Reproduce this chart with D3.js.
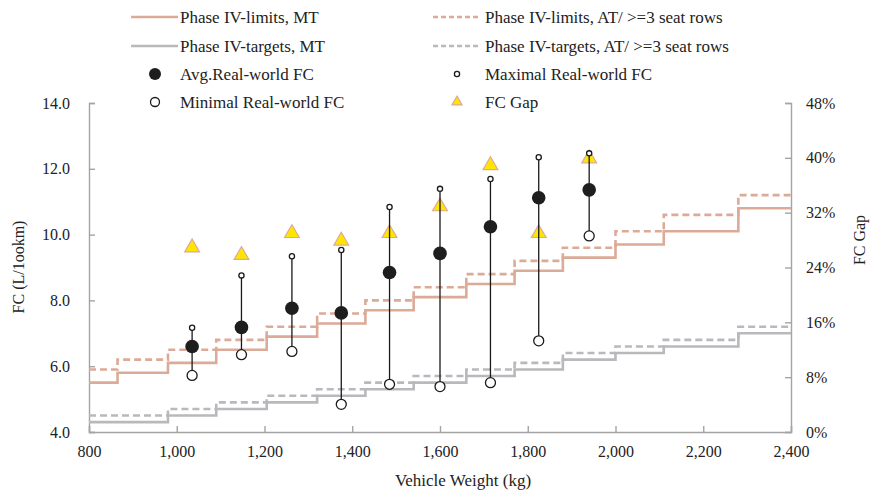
<!DOCTYPE html>
<html>
<head>
<meta charset="utf-8">
<title>FC vs weight</title>
<script src="https://d3js.org/d3.v7.min.js"></script>
<style>
body { margin: 0; background: #fff; }
svg text { font-family: "Liberation Serif", "Times New Roman", serif; fill: #222; }
</style>
</head>
<body>
<svg id="chart" width="870" height="494"></svg>
<script>
// step limits/targets per weight bin (bins clipped to the 800-2400 axis)
var binEdges = [800, 865, 980, 1090, 1205, 1320, 1430, 1540, 1660, 1770, 1880, 2000, 2110, 2280, 2400];
var limitMT  = [5.5, 5.8, 6.1, 6.5, 6.9, 7.3, 7.7, 8.1, 8.5, 8.9, 9.3, 9.7, 10.1, 10.8];
var limitAT  = [5.9, 6.2, 6.5, 6.8, 7.2, 7.6, 8.0, 8.4, 8.8, 9.2, 9.6, 10.1, 10.6, 11.2];
var targetMT = [4.3, 4.3, 4.5, 4.7, 4.9, 5.1, 5.3, 5.5, 5.7, 5.9, 6.2, 6.4, 6.6, 7.0];
var targetAT = [4.5, 4.5, 4.7, 4.9, 5.1, 5.3, 5.5, 5.7, 5.9, 6.1, 6.4, 6.6, 6.8, 7.2];

// real-world FC, one point per bin midpoint
var weights = [1035, 1147.5, 1262.5, 1375, 1485, 1600, 1715, 1825, 1940];
var avgFC   = [6.60, 7.18, 7.76, 7.62, 8.85, 9.43, 10.24, 11.12, 11.36];
var maxFC   = [7.17, 8.76, 9.34, 9.53, 10.84, 11.39, 11.69, 12.35, 12.47];
var minFC   = [5.72, 6.35, 6.45, 4.84, 5.45, 5.38, 5.50, 6.77, 9.96];
var fcGap   = [0.269, 0.258, 0.290, 0.279, 0.290, 0.329, 0.389, 0.290, 0.399];

var xTicks = [800, 1000, 1200, 1400, 1600, 1800, 2000, 2200, 2400];
var yTicks = [4, 6, 8, 10, 12, 14];
var gapTicks = [0, 0.08, 0.16, 0.24, 0.32, 0.40, 0.48];

var limitColor = "#dcab98";
var targetColor = "#b9b9bd";
var axisColor = "#a4a4a4";

var svg = d3.select("#chart");
var plotLeft = 89, plotRight = 791, plotTop = 103, plotBottom = 432;

var x = d3.scaleLinear().domain([800, 2400]).range([plotLeft, plotRight]);
var y = d3.scaleLinear().domain([4, 14]).range([plotBottom, plotTop]);
var y2 = d3.scaleLinear().domain([0, 0.48]).range([plotBottom, plotTop]);

// axes, ticks pointing inward
var xAxis = svg.append("g").attr("transform", "translate(0," + plotBottom + ")")
  .call(d3.axisTop(x).tickValues(xTicks).tickSize(6).tickFormat(d3.format(",")));
xAxis.selectAll("text").attr("y", 25).attr("dy", 0).style("font-size", "16px");

var yAxis = svg.append("g").attr("transform", "translate(" + plotLeft + ",0)")
  .call(d3.axisRight(y).tickValues(yTicks).tickSize(6).tickFormat(d3.format(".1f")));
yAxis.selectAll("text").attr("x", -19).attr("text-anchor", "end").style("font-size", "16px");

var y2Axis = svg.append("g").attr("transform", "translate(" + plotRight + ",0)")
  .call(d3.axisLeft(y2).tickValues(gapTicks).tickSize(6).tickFormat(d3.format(".0%")));
y2Axis.selectAll("text").attr("x", 15).attr("text-anchor", "start").style("font-size", "16px");

svg.selectAll(".domain, .tick line").attr("stroke", axisColor).attr("stroke-width", 1.4);
svg.selectAll(".tick text").attr("fill", "#222").attr("font-family", "Liberation Serif");

// axis titles
svg.append("text").attr("x", 463).attr("y", 486).attr("text-anchor", "middle")
  .style("font-size", "17px").text("Vehicle  Weight (kg)");
svg.append("text").attr("transform", "translate(24,267) rotate(-90)").attr("text-anchor", "middle")
  .style("font-size", "16px").text("FC (L/1ookm)");
svg.append("text").attr("transform", "translate(865,240) rotate(-90)").attr("text-anchor", "middle")
  .style("font-size", "16px").text("FC Gap");

// step lines
function stepData(vals) {
  var pts = vals.map(function(v, i) { return [binEdges[i], v]; });
  pts.push([binEdges[binEdges.length - 1], vals[vals.length - 1]]);
  return pts;
}
var step = d3.line().x(function(d) { return x(d[0]); }).y(function(d) { return y(d[1]); }).curve(d3.curveStepAfter);

var series = [
  {vals: limitMT, color: limitColor, dash: null},
  {vals: limitAT, color: limitColor, dash: "7,4"},
  {vals: targetMT, color: targetColor, dash: null},
  {vals: targetAT, color: targetColor, dash: "7,4"}
];
series.forEach(function(s) {
  svg.append("path").datum(stepData(s.vals)).attr("d", step)
    .attr("fill", "none").attr("stroke", s.color).attr("stroke-width", 2.6)
    .attr("stroke-dasharray", s.dash);
});

var pts = weights.map(function(w, i) {
  return {w: w, avg: avgFC[i], max: maxFC[i], min: minFC[i], gap: fcGap[i]};
});

var tri = d3.symbol().type(d3.symbolTriangle).size(95);
svg.selectAll(".gap").data(pts).enter().append("path")
  .attr("transform", function(d) { return "translate(" + x(d.w) + "," + y2(d.gap) + ")"; })
  .attr("d", tri).attr("fill", "#ffe500").attr("stroke", limitColor).attr("stroke-width", 1.2);

svg.selectAll(".bar").data(pts).enter().append("line")
  .attr("x1", function(d) { return x(d.w); }).attr("x2", function(d) { return x(d.w); })
  .attr("y1", function(d) { return y(d.min); }).attr("y2", function(d) { return y(d.max); })
  .attr("stroke", "#1a1a1a").attr("stroke-width", 1.3);

svg.selectAll(".mx").data(pts).enter().append("circle")
  .attr("cx", function(d) { return x(d.w); }).attr("cy", function(d) { return y(d.max); })
  .attr("r", 2.6).attr("fill", "#fff").attr("stroke", "#1a1a1a").attr("stroke-width", 1.3);

svg.selectAll(".mn").data(pts).enter().append("circle")
  .attr("cx", function(d) { return x(d.w); }).attr("cy", function(d) { return y(d.min); })
  .attr("r", 5).attr("fill", "#fff").attr("stroke", "#1a1a1a").attr("stroke-width", 1.3);

svg.selectAll(".av").data(pts).enter().append("circle")
  .attr("cx", function(d) { return x(d.w); }).attr("cy", function(d) { return y(d.avg); })
  .attr("r", 6.8).attr("fill", "#1e1e1e");

// legend
var lg = svg.append("g");
var rows = [17, 46, 74, 102];
function legendText(xp, yp, label) {
  lg.append("text").attr("x", xp).attr("y", yp).attr("dy", "0.35em").style("font-size", "17px").text(label);
}
function legendLine(x0, yp, color, dash) {
  lg.append("line").attr("x1", x0).attr("x2", x0 + 47).attr("y1", yp).attr("y2", yp)
    .attr("stroke", color).attr("stroke-width", 2.6).attr("stroke-dasharray", dash);
}
legendLine(131, rows[0], limitColor, null);
legendText(180, rows[0], "Phase IV-limits, MT");
legendLine(131, rows[1], targetColor, null);
legendText(180, rows[1], "Phase IV-targets, MT");
legendLine(433, rows[0], limitColor, "5,3");
legendText(485, rows[0], "Phase IV-limits, AT/ >=3 seat rows");
legendLine(433, rows[1], targetColor, "5,3");
legendText(485, rows[1], "Phase IV-targets, AT/ >=3 seat rows");

lg.append("circle").attr("cx", 155).attr("cy", rows[2]).attr("r", 6).attr("fill", "#1e1e1e");
legendText(180, rows[2], "Avg.Real-world FC");
lg.append("circle").attr("cx", 155).attr("cy", rows[3]).attr("r", 4.5)
  .attr("fill", "#fff").attr("stroke", "#1a1a1a").attr("stroke-width", 1.3);
legendText(180, rows[3], "Minimal Real-world FC");
lg.append("circle").attr("cx", 457).attr("cy", rows[2]).attr("r", 2.6)
  .attr("fill", "#fff").attr("stroke", "#1a1a1a").attr("stroke-width", 1.3);
legendText(485, rows[2], "Maximal Real-world FC");
lg.append("path").attr("transform", "translate(457," + rows[3] + ")")
  .attr("d", d3.symbol().type(d3.symbolTriangle).size(45))
  .attr("fill", "#ffe500").attr("stroke", limitColor).attr("stroke-width", 1.2);
legendText(485, rows[3], "FC Gap");
</script>
</body>
</html>
